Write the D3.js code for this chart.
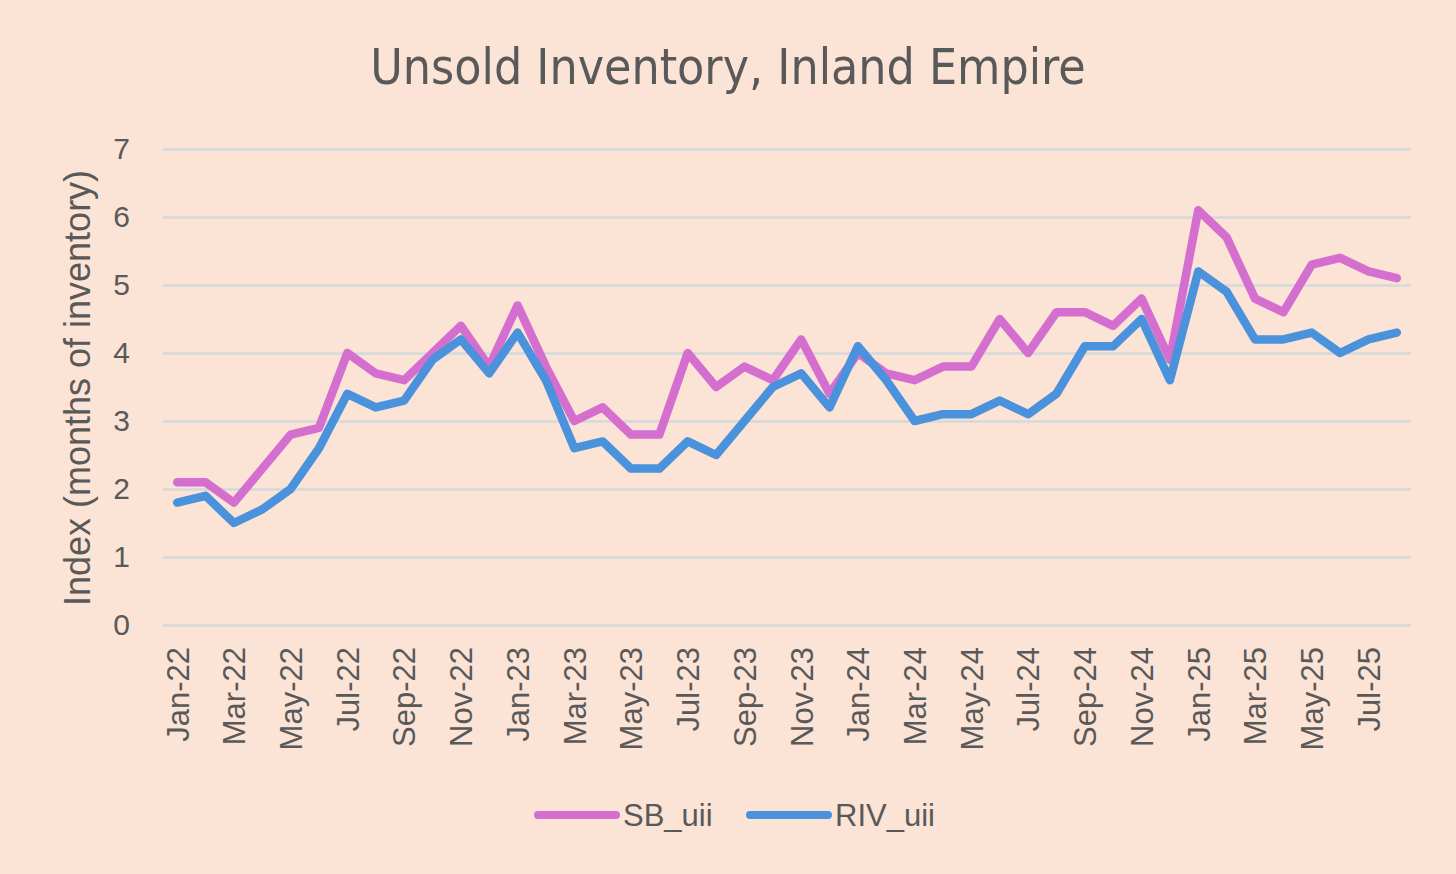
<!DOCTYPE html>
<html>
<head>
<meta charset="utf-8">
<script src="https://cdn.jsdelivr.net/npm/d3@7"></script>
<style>
  html, body { margin: 0; padding: 0; background: #fbe3d6; }
  #container { width: 1456px; height: 874px; }
</style>
</head>
<body>
<div id="container"></div>
<script>
// months Jan-22 .. Aug-25
const months = ["Jan-22","Feb-22","Mar-22","Apr-22","May-22","Jun-22","Jul-22","Aug-22","Sep-22","Oct-22","Nov-22","Dec-22",
    "Jan-23","Feb-23","Mar-23","Apr-23","May-23","Jun-23","Jul-23","Aug-23","Sep-23","Oct-23","Nov-23","Dec-23",
    "Jan-24","Feb-24","Mar-24","Apr-24","May-24","Jun-24","Jul-24","Aug-24","Sep-24","Oct-24","Nov-24","Dec-24",
    "Jan-25","Feb-25","Mar-25","Apr-25","May-25","Jun-25","Jul-25","Aug-25"];

const sbValues = [2.1, 2.1, 1.8, 2.3, 2.8, 2.9, 4.0, 3.7, 3.6, 4.0, 4.4, 3.8,
    4.7, 3.8, 3.0, 3.2, 2.8, 2.8, 4.0, 3.5, 3.8, 3.6, 4.2, 3.4,
    4.0, 3.7, 3.6, 3.8, 3.8, 4.5, 4.0, 4.6, 4.6, 4.4, 4.8, 3.9,
    6.1, 5.7, 4.8, 4.6, 5.3, 5.4, 5.2, 5.1];

const rivValues = [1.8, 1.9, 1.5, 1.7, 2.0, 2.6, 3.4, 3.2, 3.3, 3.9, 4.2, 3.7,
    4.3, 3.6, 2.6, 2.7, 2.3, 2.3, 2.7, 2.5, 3.0, 3.5, 3.7, 3.2,
    4.1, 3.6, 3.0, 3.1, 3.1, 3.3, 3.1, 3.4, 4.1, 4.1, 4.5, 3.6,
    5.2, 4.9, 4.2, 4.2, 4.3, 4.0, 4.2, 4.3];

const yTicks = [0, 1, 2, 3, 4, 5, 6, 7];

const seriesNames = ["SB_uii", "RIV_uii"];
const seriesColors = ["#d56fcf", "#4a92dc"];

function draw() {
    const width = 1456;
    const height = 874;
    const left = 163, right = 1411, top = 149, bottom = 625;
    const textColor = "#595959";
    const font = "'Liberation Sans', Arial, sans-serif";

    const svg = d3.select('#container')
        .append('svg')
        .attr('width', width)
        .attr('height', height);

    svg.append("rect")
        .attr("width", width)
        .attr("height", height)
        .attr("fill", "#fbe3d6");

    // points sit in the middle of each month slot
    const x = d3.scalePoint()
        .domain(months)
        .range([left, right])
        .padding(0.5);

    const y = d3.scaleLinear()
        .domain([0, 7])
        .range([bottom, top]);

    // title
    svg.append("text")
        .text("Unsold Inventory, Inland Empire")
        .attr("x", 728)
        .attr("y", 84)
        .attr("text-anchor", "middle")
        .style("font-family", "'Liberation Sans Narrow', 'DejaVu Sans Condensed', sans-serif")
        .style("font-size", "49.5px")
        .style("fill", textColor);

    // gridlines + y labels
    const yAxis = d3.axisLeft(y)
        .tickValues(yTicks)
        .tickSize(-(right - left))
        .tickPadding(33)
        .tickFormat(d3.format("d"));

    const gy = svg.append("g")
        .attr("transform", `translate(${left},0)`)
        .call(yAxis);
    gy.select(".domain").remove();
    gy.selectAll(".tick line")
        .attr("stroke", "#d5d9dc")
        .attr("stroke-width", 2.5);
    gy.selectAll(".tick text")
        .style("font-family", font)
        .style("font-size", "30px")
        .style("fill", textColor);

    // x labels, every second month, rotated
    const xAxis = d3.axisBottom(x)
        .tickValues(months.filter((m, i) => i % 2 === 0))
        .tickSize(0)
        .tickPadding(0);

    const gx = svg.append("g")
        .attr("transform", `translate(0,${bottom})`)
        .call(xAxis);
    gx.select(".domain").remove();
    gx.selectAll(".tick text")
        .attr("transform", "rotate(-90)")
        .attr("x", -22)
        .attr("y", 0)
        .attr("dy", "0.35em")
        .attr("text-anchor", "end")
        .style("font-family", font)
        .style("font-size", "31px")
        .style("fill", textColor);

    // y axis title
    svg.append("text")
        .text("Index (months of inventory)")
        .attr("transform", "translate(90,388) rotate(-90)")
        .attr("text-anchor", "middle")
        .style("font-family", font)
        .style("font-size", "36px")
        .style("fill", textColor);

    // lines
    const line = d3.line()
        .x((d, i) => x(months[i]))
        .y(d => y(d));

    [sbValues, rivValues].forEach((vals, k) => {
        svg.append("path")
            .datum(vals)
            .attr("d", line)
            .attr("fill", "none")
            .attr("stroke", seriesColors[k])
            .attr("stroke-width", 8.5)
            .attr("stroke-linejoin", "round")
            .attr("stroke-linecap", "round");
    });

    // legend
    const legendX = [538, 750];
    seriesNames.forEach((name, k) => {
        const lg = svg.append("g");
        lg.append("line")
            .attr("x1", legendX[k])
            .attr("x2", legendX[k] + 78)
            .attr("y1", 815)
            .attr("y2", 815)
            .attr("stroke", seriesColors[k])
            .attr("stroke-width", 8)
            .attr("stroke-linecap", "round");
        lg.append("text")
            .text(name)
            .attr("x", legendX[k] + 85)
            .attr("y", 826)
            .style("font-family", font)
            .style("font-size", "31px")
            .style("fill", textColor);
    });
}
draw();
</script>
</body>
</html>
